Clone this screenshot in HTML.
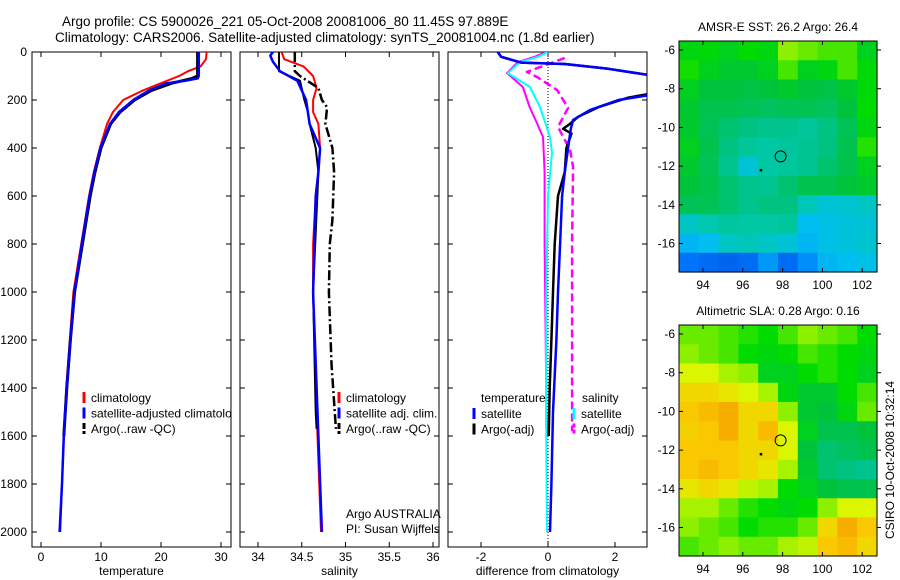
<!DOCTYPE html>
<html><head><meta charset="utf-8"><style>
body{margin:0;background:#fff}
svg{display:block;font-family:"Liberation Sans",sans-serif}
text{font-size:12px;fill:#000}
</style></head><body>
<svg id="fig" width="900" height="580" viewBox="0 0 900 580" xmlns="http://www.w3.org/2000/svg">
<rect width="900" height="580" fill="#fff"/>
<text x="62" y="26" style="font-size:13.5px">Argo profile: CS 5900026_221 05-Oct-2008 20081006_80 11.45S 97.889E</text>
<text x="55" y="42" style="font-size:13.5px">Climatology: CARS2006. Satellite-adjusted climatology: synTS_20081004.nc (1.8d earlier)</text>
<defs>
<clipPath id="c1"><rect x="32" y="52" width="199" height="495"/></clipPath>
<clipPath id="c2"><rect x="240" y="52" width="199" height="495"/></clipPath>
<clipPath id="c3"><rect x="448" y="52" width="199" height="495"/></clipPath>
</defs>
<g id="root"></g>
</svg>
<script>
// ---- profile data ----
const depthTicks=[0,200,400,600,800,1000,1200,1400,1600,1800,2000];
const tempTicks=[0,10,20,30];
const salTicks=[34,34.5,35,35.5,36];
const diffTicks=[-2,0,2];
const climTDepth=[0,30,60,80,100,130,160,200,250,300,400,500,600,800,1000,1200,1400,1600,1800,2000];
const climTVal=[27.6,27.5,26.6,24.5,23,20,17,13.7,12,11,9.8,8.8,8,6.7,5.4,4.8,4.2,3.8,3.5,3.2];
const satTDepth=[0,100,110,120,130,160,200,250,300,400,500,600,800,1000,1200,1400,1600,1800,2000];
const satTVal=[26.3,26.3,26.1,24,21,18,15.4,13,11.5,9.9,8.9,8.1,6.8,5.6,4.9,4.3,3.8,3.5,3.1];
const argoTDepth=[0,100,110,130,160,200,250,300,400,500,600,800,1000,1200,1400,1600];
const argoTVal=[26.1,26.1,25.2,21.8,18.4,15.6,13.2,11.6,10,9,8.2,6.9,5.6,4.9,4.3,3.8];
const climSDepth=[0,30,60,100,150,200,250,300,400,500,600,800,1000,1500,2000];
const climSVal=[34.27,34.3,34.52,34.63,34.67,34.63,34.63,34.69,34.71,34.69,34.66,34.63,34.63,34.67,34.72];
const satSDepth=[0,15,40,80,120,200,300,400,500,600,1000,1500,2000];
const satSVal=[34.17,34.14,34.17,34.25,34.45,34.55,34.59,34.71,34.69,34.66,34.63,34.68,34.73];
const argoSDepth=[0,80,120,200,250,300,400,500,1000,1500,1570];
const argoSVal=[34.24,34.24,34.48,34.53,34.57,34.59,34.66,34.69,34.63,34.66,34.67];
const argoSAdjDepth=[0,80,100,150,200,230,300,400,500,700,800,1000,1300,1570];
const argoSAdjVal=[34.42,34.42,34.48,34.69,34.73,34.79,34.77,34.85,34.87,34.85,34.82,34.81,34.84,34.89];
const dTSatDepth=[0,20,44,50,70,96,130,180,200,242,283,320,400,500,600,800,1000,1200,1500,1800,2000];
const dTSatVal=[-1.5,-1.4,-0.8,0.5,1.8,3.0,4.5,3.0,2.1,1.25,0.75,0.68,0.6,0.5,0.42,0.36,0.3,0.25,0.15,0.1,0.06];
const dTArgoDepth=[0,20,44,50,70,96,130,170,190,230,270,300,320,340,400,500,600,800,1000,1200,1400,1600];
const dTArgoVal=[-1.5,-1.4,-0.8,0.5,1.8,3.0,4.5,3.2,2.4,1.5,0.9,0.65,0.45,0.7,0.55,0.5,0.3,0.2,0.15,0.1,0.05,0.02];
const dSSatDepth=[0,20,42,88,146,229,354,420,600,1000,1500,2000];
const dSSatVal=[0,-0.3,-0.84,-1.2,-0.54,-0.24,0.06,0.12,0.0,-0.05,-0.06,-0.03];
const dSArgoDepth=[0,20,42,88,146,229,296,354,500,800,1200,1600];
const dSArgoVal=[-0.05,-0.4,-0.9,-1.22,-0.75,-0.55,-0.33,-0.15,-0.1,-0.1,-0.07,-0.04];
const dSAdjDepth=[25,63,83,104,158,233,312,408,480,783,1337,1580];
const dSAdjVal=[0.5,-0.24,-0.63,-0.33,0.27,0.6,0.3,0.66,0.75,0.72,0.72,0.72];
// ---- map data (value 0..1 on colour scale), rows top->bottom, cols lon 93..102 ----
const sstGrid=[
[.64,.65,.62,.66,.64,.74,.72,.70,.70,.62],
[.67,.62,.60,.60,.62,.70,.62,.64,.70,.65],
[.62,.58,.58,.57,.58,.60,.58,.57,.60,.65],
[.60,.56,.56,.55,.54,.55,.55,.54,.58,.66],
[.60,.55,.52,.50,.48,.48,.46,.50,.55,.64],
[.62,.56,.50,.46,.44,.45,.47,.50,.56,.68],
[.60,.55,.48,.35,.44,.45,.47,.52,.56,.62],
[.58,.56,.52,.48,.47,.52,.56,.56,.58,.60],
[.55,.55,.52,.48,.50,.50,.40,.35,.36,.38],
[.38,.42,.45,.44,.44,.45,.30,.32,.34,.35],
[.28,.30,.38,.40,.38,.35,.28,.32,.34,.36],
[.14,.12,.10,.12,.22,.12,.20,.28,.30,.32]];
const slaGrid=[
[.72,.72,.70,.68,.66,.70,.74,.72,.70,.66],
[.74,.72,.70,.66,.64,.66,.70,.68,.66,.64],
[.80,.80,.76,.74,.62,.62,.66,.68,.66,.62],
[.84,.84,.82,.80,.76,.64,.60,.60,.66,.70],
[.86,.88,.90,.84,.84,.74,.60,.58,.64,.72],
[.85,.86,.90,.84,.88,.80,.62,.56,.56,.58],
[.86,.86,.86,.84,.84,.80,.58,.52,.54,.56],
[.86,.88,.86,.84,.82,.76,.60,.52,.50,.48],
[.82,.84,.82,.78,.76,.66,.62,.58,.56,.56],
[.76,.76,.72,.68,.66,.64,.66,.74,.80,.80],
[.74,.72,.70,.66,.68,.68,.72,.84,.90,.86],
[.70,.72,.74,.72,.72,.76,.78,.86,.88,.84]];
const lonTicks=[94,96,98,100,102];
const latTicks=[-6,-8,-10,-12,-14,-16];
const latTickLabels=["-6","-8","-10","-12","-14","-16"];
const floatLon=97.9, floatLat=-11.5;

const NS="http://www.w3.org/2000/svg";
const root=document.getElementById('root');
function mk(tag,attrs,parent){const e=document.createElementNS(NS,tag);for(const k in attrs)e.setAttribute(k,attrs[k]);(parent||root).appendChild(e);return e;}
const yD=d=>52+d*0.24;
const xT=v=>41+v*6;
const xS=v=>258+(v-34)*87.5;
const xDf=v=>548+v*33.5;

function panel(x0,name,ticks,xf,fmt,label){
  const g=mk('g',{});
  
  
  const r=mk('rect',{x:x0,y:52,width:199,height:495,fill:'none',stroke:'#000','stroke-width':1},g);
  
  
  depthTicks.forEach(d=>{
    const y=yD(d);
    mk('line',{x1:x0,x2:x0+5,y1:y,y2:y,stroke:'#000'},g);
    mk('line',{x1:x0+199,x2:x0+194,y1:y,y2:y,stroke:'#000'},g);
  });
  ticks.forEach(v=>{
    const x=xf(v);
    mk('line',{x1:x,x2:x,y1:547,y2:542,stroke:'#000'},g);
    mk('line',{x1:x,x2:x,y1:52,y2:57,stroke:'#000'},g);
    const t=mk('text',{x:x,y:561,'text-anchor':'middle'},g);t.textContent=fmt(v);
    
    
  });
  const t=mk('text',{x:x0+99.5,y:575,'text-anchor':'middle'},g);t.textContent=label;
  
  
  return g;
}
const p1=panel(32,'temperature-panel',tempTicks,xT,v=>String(v),'temperature');
const p2=panel(240,'salinity-panel',salTicks,xS,v=>String(v),'salinity');
const p3=panel(448,'difference-panel',diffTicks,xDf,v=>String(v),'difference from climatology');
depthTicks.forEach(d=>{
  const t=mk('text',{x:27,y:yD(d)+4,'text-anchor':'end'});t.textContent=String(d);
  
  
});
function line(depths,vals,xf,color,clip,name,opt){
  opt=opt||{};
  const pts=depths.map((d,i)=>xf(vals[i]).toFixed(1)+','+yD(d).toFixed(1)).join(' ');
  const e=mk('polyline',{points:pts,fill:'none',stroke:color,'stroke-width':opt.w||2,'clip-path':'url(#'+clip+')','stroke-dasharray':opt.dash||'none','stroke-linejoin':'round'});
  
  
}
line(climTDepth,climTVal,xT,'#f00','c1','temp-climatology-line');
line(argoTDepth,argoTVal,xT,'#000','c1','temp-argo-line',{w:3});
line(satTDepth,satTVal,xT,'#00f','c1','temp-satellite-line',{w:2.5});
line(climSDepth,climSVal,xS,'#f00','c2','sal-climatology-line');
line(argoSDepth,argoSVal,xS,'#000','c2','sal-argo-line',{w:2});
line(argoSAdjDepth,argoSAdjVal,xS,'#000','c2','sal-argo-adj-line',{w:2.5,dash:'10,3,2,3'});
line(satSDepth,satSVal,xS,'#00f','c2','sal-satellite-line',{w:2.5});
const zl=mk('line',{x1:xDf(0),x2:xDf(0),y1:52,y2:547,stroke:'#000','stroke-dasharray':'1,2'});


line(dSArgoDepth,dSArgoVal,xDf,'#f0f','c3','diff-sal-argo-line');
line(dSSatDepth,dSSatVal,xDf,'#0ff','c3','diff-sal-satellite-line');
line(dSAdjDepth,dSAdjVal,xDf,'#f0f','c3','diff-sal-argo-adj-line',{w:2.5,dash:'8,4'});
line(dTArgoDepth,dTArgoVal,xDf,'#000','c3','diff-temp-argo-line',{w:2.5});
line(dTSatDepth,dTSatVal,xDf,'#00f','c3','diff-temp-satellite-line',{w:2.5});

function legend(x,y,items,clip){
  items.forEach((it,i)=>{
    const yy=y+i*15.5;
    if(it.c){const b=mk('line',{x1:x,x2:x,y1:yy-10,y2:yy+1,stroke:it.c,'stroke-width':3,'stroke-dasharray':it.dash||'none'});
      
      }
    const t=mk('text',{x:x+(it.c?7:0),y:yy,'clip-path':clip?'url(#'+clip+')':''});t.textContent=it.t;
    
    
  });
}
legend(84,402,[{c:'#f00',t:'climatology'},{c:'#00f',t:'satellite-adjusted climatology'},{c:'#000',t:'Argo(..raw -QC)',dash:'6,2'}],'c1');
legend(339,402,[{c:'#f00',t:'climatology'},{c:'#00f',t:'satellite adj. clim.'},{c:'#000',t:'Argo(..raw -QC)',dash:'6,2'}]);
legend(481,402,[{t:'temperature'}]);
legend(474,418,[{c:'#00f',t:'satellite'},{c:'#000',t:'Argo(-adj)'}]);
legend(582,402,[{t:'salinity'}]);
legend(574,418,[{c:'#0ff',t:'satellite'},{c:'#f0f',t:'Argo(-adj)',dash:'4,2'}]);
[['Argo AUSTRALIA',518],['PI: Susan Wijffels',533]].forEach(a=>{
  const t=mk('text',{x:346,y:a[1]});t.textContent=a[0];
  
  
});

// ---- maps ----
const stops=[[0,[0,60,200]],[.15,[0,120,255]],[.3,[0,190,240]],[.42,[0,200,175]],[.5,[0,195,130]],[.58,[0,195,60]],[.66,[0,220,0]],[.74,[140,240,0]],[.8,[220,245,0]],[.86,[250,200,0]],[.92,[245,160,0]],[1,[240,140,0]]];
function cmap(v){for(let i=1;i<stops.length;i++){if(v<=stops[i][0]){const a=stops[i-1],b=stops[i];const f=(v-a[0])/(b[0]-a[0]);return 'rgb('+a[1].map((c,k)=>Math.round(c+(b[1][k]-c)*f)).join(',')+')';}}return 'rgb(240,140,0)';}
function map(y0,grid,name,title){
  const x0=679,w=198,h=231;
  const g=mk('g',{});
  
  
  const lx=lon=>703+(lon-94)*19.9;
  const ly=lat=>y0+9+(-6-lat)*19.35;
  const cw=w/grid[0].length,ch=h/grid.length;
  grid.forEach((row,r)=>row.forEach((v,c)=>{
    const cell=mk('rect',{x:x0+c*cw,y:y0+r*ch,width:cw+0.6,height:ch+0.6,fill:cmap(v)},g);
    
    
  }));
  mk('rect',{x:x0,y:y0,width:w,height:h,fill:'none',stroke:'#000'},g);
  lonTicks.forEach(l=>{const x=lx(l);mk('line',{x1:x,x2:x,y1:y0,y2:y0+4,stroke:'#000'},g);mk('line',{x1:x,x2:x,y1:y0+h,y2:y0+h-4,stroke:'#000'},g);
    const t=mk('text',{x:x,y:y0+h+17,'text-anchor':'middle'},g);t.textContent=String(l);
    
    });
  latTicks.forEach((l,i)=>{const y=ly(l);mk('line',{x1:x0,x2:x0+4,y1:y,y2:y,stroke:'#000'},g);mk('line',{x1:x0+w,x2:x0+w+4,y1:y,y2:y,stroke:'#000'},g);
    const t=mk('text',{x:x0-4,y:y+4,'text-anchor':'end'},g);t.textContent=latTickLabels[i];
    
    });
  const c=mk('circle',{cx:lx(floatLon),cy:ly(floatLat),r:5.5,fill:'none',stroke:'#000'},g);
  
  
  mk('rect',{x:lx(96.9)-1,y:ly(-12.2)-1,width:2.5,height:2.5,fill:'#000'},g);
  const t=mk('text',{x:x0+w/2,y:y0-10,'text-anchor':'middle'},g);t.textContent=title;
  
  
}
map(41,sstGrid,'sst-map','AMSR-E SST: 26.2 Argo: 26.4');
map(325,slaGrid,'sla-map','Altimetric SLA: 0.28 Argo: 0.16');
const st=mk('text',{x:0,y:0,transform:'translate(894,460) rotate(-90)','text-anchor':'middle'});
st.textContent='CSIRO 10-Oct-2008 10:32:14';


</script>
</body></html>
